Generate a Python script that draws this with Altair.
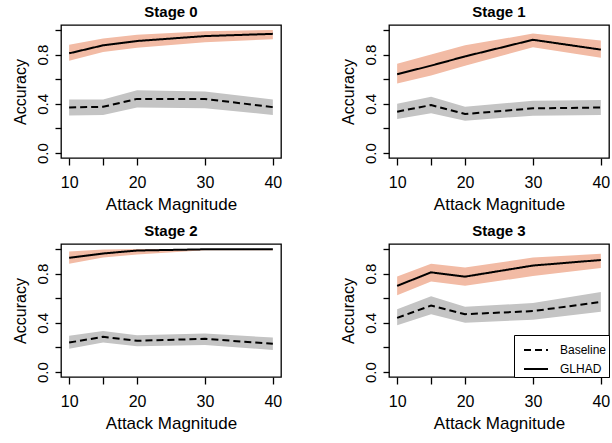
import altair as alt
import pandas as pd

FONT = "Liberation Sans"

magnitude = [10, 15, 20, 30, 40]
stages = ["Stage 0", "Stage 1", "Stage 2", "Stage 3"]

# GLHAD mean / lower / upper per stage
glhad_mean = {
    "Stage 0": [0.81, 0.875, 0.91, 0.95, 0.968],
    "Stage 1": [0.64, 0.71, 0.785, 0.92, 0.84],
    "Stage 2": [0.928, 0.963, 0.987, 0.997, 0.998],
    "Stage 3": [0.70, 0.81, 0.775, 0.865, 0.91],
}
glhad_low = {
    "Stage 0": [0.75, 0.82, 0.855, 0.90, 0.925],
    "Stage 1": [0.565, 0.63, 0.71, 0.86, 0.775],
    "Stage 2": [0.88, 0.93, 0.955, 0.99, 0.99],
    "Stage 3": [0.624, 0.735, 0.70, 0.78, 0.845],
}
glhad_high = {
    "Stage 0": [0.88, 0.93, 0.96, 0.99, 1.0],
    "Stage 1": [0.725, 0.80, 0.875, 0.97, 0.915],
    "Stage 2": [0.98, 0.995, 1.0, 1.0, 1.0],
    "Stage 3": [0.777, 0.88, 0.85, 0.93, 0.96],
}
# Baseline mean / lower / upper per stage
base_mean = {
    "Stage 0": [0.37, 0.376, 0.44, 0.44, 0.373],
    "Stage 1": [0.336, 0.39, 0.317, 0.363, 0.37],
    "Stage 2": [0.24, 0.286, 0.254, 0.27, 0.23],
    "Stage 3": [0.44, 0.54, 0.47, 0.495, 0.57],
}
base_low = {
    "Stage 0": [0.305, 0.31, 0.37, 0.365, 0.31],
    "Stage 1": [0.277, 0.323, 0.263, 0.304, 0.31],
    "Stage 2": [0.19, 0.24, 0.21, 0.22, 0.18],
    "Stage 3": [0.38, 0.47, 0.40, 0.425, 0.49],
}
base_high = {
    "Stage 0": [0.435, 0.435, 0.51, 0.50, 0.435],
    "Stage 1": [0.40, 0.457, 0.376, 0.425, 0.43],
    "Stage 2": [0.294, 0.334, 0.30, 0.313, 0.28],
    "Stage 3": [0.51, 0.615, 0.53, 0.56, 0.65],
}

x_ticks = [10, 15, 20, 30, 40]
y_ticks = [0.0, 0.2, 0.4, 0.6, 0.8, 1.0]

SALMON = "#F2BBA5"
GREY = "#C4C4C4"


def stage_frame(stage):
    rows = []
    for i, m in enumerate(magnitude):
        rows.append({"Magnitude": m, "Method": "Baseline", "mean": base_mean[stage][i],
                     "low": base_low[stage][i], "high": base_high[stage][i]})
        rows.append({"Magnitude": m, "Method": "GLHAD", "mean": glhad_mean[stage][i],
                     "low": glhad_low[stage][i], "high": glhad_high[stage][i]})
    return pd.DataFrame(rows)


xscale = alt.Scale(domain=[8.8, 41.2], nice=False, zero=False)
yscale = alt.Scale(domain=[-0.04, 1.04], nice=False, zero=False)

xaxis = alt.Axis(
    values=x_ticks, title="Attack Magnitude", grid=False, domain=False,
    labelExpr="datum.value == 15 ? '' : datum.label", labelFlush=False,
    labelOverlap=False, tickSize=7, tickWidth=1.3, tickColor="black",
    labelFontSize=16, labelPadding=9, titleFontSize=17, titlePadding=6,
    labelFont=FONT, titleFont=FONT, titleFontWeight="normal",
    labelColor="black", titleColor="black",
)
yaxis = alt.Axis(
    values=y_ticks, title="Accuracy", grid=False, domain=False,
    labelExpr="(abs(datum.value) < 0.01 || abs(datum.value - 0.4) < 0.01 || abs(datum.value - 0.8) < 0.01) ? format(datum.value, '.1f') : ''",
    labelAngle=270, labelAlign="center", labelBaseline="bottom",
    labelOverlap=False, labelFlush=False, tickSize=6, tickWidth=1.3,
    tickColor="black", labelFontSize=15, labelPadding=5, titleFontSize=16,
    titlePadding=7, labelFont=FONT, titleFont=FONT, titleFontWeight="normal",
    labelColor="black", titleColor="black",
)


def panel(stage, show_legend):
    df = stage_frame(stage)
    base = alt.Chart(df)
    bands = []
    for method, col in [("Baseline", GREY), ("GLHAD", SALMON)]:
        bands.append(
            base.transform_filter(alt.datum.Method == method)
            .mark_area(color=col, opacity=1)
            .encode(
                x=alt.X("Magnitude:Q", scale=xscale, axis=xaxis),
                y=alt.Y("low:Q", scale=yscale, axis=yaxis),
                y2="high:Q",
            )
        )
    legend = None
    if show_legend:
        legend = alt.Legend(
            title=None, orient="bottom-right", offset=0, padding=2,
            strokeColor="black", fillColor="white", cornerRadius=0,
            symbolType="stroke", symbolStrokeColor="black", symbolStrokeWidth=2,
            symbolSize=576, symbolOffset=7, labelFontSize=12, labelFont=FONT,
            labelColor="black", labelOffset=11, rowPadding=-9,
        )
    lines = base.mark_line(color="black", strokeWidth=2).encode(
        x=alt.X("Magnitude:Q", scale=xscale, axis=xaxis),
        y=alt.Y("mean:Q", scale=yscale, axis=yaxis),
        strokeDash=alt.StrokeDash(
            "Method:N",
            scale=alt.Scale(domain=["Baseline", "GLHAD"], range=[[7, 4], [1, 0]]),
            legend=legend,
        ),
    )
    return alt.layer(*bands, lines).properties(
        width=220, height=133,
        title=alt.TitleParams(stage, fontSize=15, fontWeight="bold", font=FONT,
                              offset=5, anchor="middle", color="black"),
    )


chart = alt.concat(
    panel("Stage 0", False), panel("Stage 1", False),
    panel("Stage 2", False), panel("Stage 3", True),
    columns=2, spacing={"row": 10, "column": 56},
).resolve_legend(strokeDash="independent").configure_view(
    stroke="black", strokeWidth=1.3
).properties(padding={"left": 11, "top": 4, "right": 0, "bottom": 0}, background="white")

chart.save("out.html", embed_options={"renderer": "svg", "actions": False})
